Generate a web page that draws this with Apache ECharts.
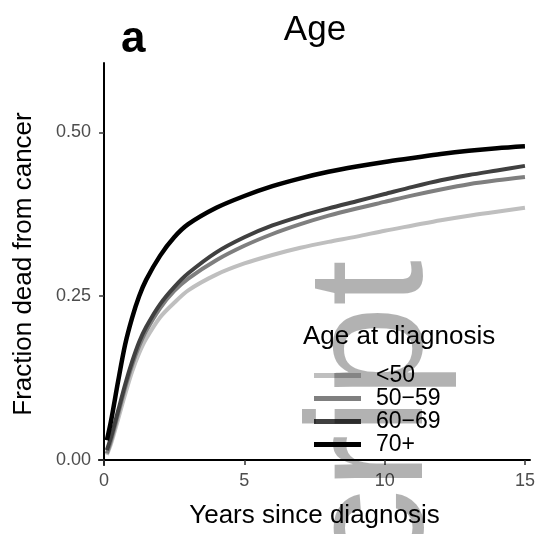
<!DOCTYPE html>
<html>
<head>
<meta charset="utf-8">
<script src="https://cdn.jsdelivr.net/npm/echarts@6/dist/echarts.min.js"></script>
<style>
  html, body { margin: 0; padding: 0; background: #fff; }
  #chart { width: 543px; height: 534px; }
</style>
</head>
<body>
<div id="chart"></div>
<script>
// years since diagnosis
const years = [0.1, 0.25, 0.5, 0.75, 1, 1.25, 1.5, 2, 2.5, 3, 4, 5, 6, 7, 8, 9, 10, 11, 12, 13, 14, 15];

// fraction dead from cancer, per age group
const ageUnder50 = [0.008, 0.025, 0.062, 0.100, 0.135, 0.163, 0.185, 0.218, 0.240, 0.259, 0.283, 0.300, 0.313, 0.324, 0.333, 0.341, 0.350, 0.358, 0.366, 0.373, 0.379, 0.385];
const age50to59 = [0.010, 0.030, 0.070, 0.110, 0.145, 0.174, 0.197, 0.232, 0.258, 0.277, 0.305, 0.327, 0.345, 0.360, 0.373, 0.384, 0.394, 0.404, 0.413, 0.421, 0.427, 0.432];
const age60to69 = [0.015, 0.035, 0.075, 0.115, 0.150, 0.180, 0.203, 0.238, 0.264, 0.285, 0.317, 0.340, 0.358, 0.372, 0.384, 0.395, 0.406, 0.417, 0.427, 0.435, 0.442, 0.449];
const age70plus = [0.030, 0.060, 0.120, 0.176, 0.217, 0.250, 0.275, 0.312, 0.340, 0.360, 0.385, 0.403, 0.418, 0.430, 0.440, 0.448, 0.455, 0.461, 0.467, 0.472, 0.476, 0.479];

const groupNames = ['<50', '50\u221259', '60\u221269', '70+'];
const groupColors = ['#bfbfbf', '#7f7f7f', '#404040', '#000000'];
const groupWidths = [4, 4, 4, 4.5];

const xTicks = [0, 5, 10, 15];
const yTicks = [0, 0.25, 0.5];

const FONT = 'Liberation Sans, Arial, sans-serif';

const chart = echarts.init(document.getElementById('chart'), null, { renderer: 'canvas' });

const seriesData = [ageUnder50, age50to59, age60to69, age70plus];
const series = seriesData.map((vals, i) => ({
    name: groupNames[i],
    type: 'line',
    data: years.map((x, j) => [x, vals[j]]),
    smooth: 0.3,
    showSymbol: false,
    lineStyle: { color: groupColors[i], width: groupWidths[i] },
    itemStyle: { color: groupColors[i] },
    z: 2 + i
}));

const option = {
    backgroundColor: '#fff',
    animation: false,
    textStyle: { fontFamily: FONT },
    grid: { left: 99, right: 13, top: 63, bottom: 66 },
    xAxis: {
        type: 'value',
        min: -0.18,
        max: 15.18,
        name: 'Years since diagnosis',
        nameLocation: 'middle',
        nameGap: 38,
        nameTextStyle: { fontSize: 26, color: '#000', fontFamily: FONT },
        axisLine: { lineStyle: { color: '#000', width: 2 } },
        axisTick: { customValues: xTicks, length: 5, lineStyle: { color: '#333', width: 1.5 } },
        axisLabel: { customValues: xTicks, fontSize: 18, color: '#4d4d4d', margin: 7, fontFamily: FONT },
        splitLine: { show: false }
    },
    yAxis: {
        type: 'value',
        min: -0.0076,
        max: 0.606,
        name: 'Fraction dead from cancer',
        nameLocation: 'middle',
        nameGap: 62,
        nameTextStyle: { fontSize: 26, color: '#000', fontFamily: FONT },
        axisLine: { lineStyle: { color: '#000', width: 2 } },
        axisTick: { customValues: yTicks, length: 5, lineStyle: { color: '#333', width: 1.5 } },
        axisLabel: {
            customValues: yTicks,
            fontSize: 18,
            color: '#4d4d4d',
            margin: 8,
            fontFamily: FONT,
            formatter: v => v.toFixed(2)
        },
        splitLine: { show: false }
    },
    legend: {
        data: groupNames,
        orient: 'vertical',
        left: 309,
        top: 359,
        icon: 'rect',
        itemWidth: 47,
        itemHeight: 5,
        itemGap: 0,
        textStyle: { fontSize: 23, lineHeight: 22, color: '#000', fontFamily: FONT, padding: [0, 0, 0, 10] }
    },
    graphic: [
        {
            type: 'text',
            left: 121,
            top: 18,
            style: { text: 'a', font: 'bold 44px ' + FONT, fill: '#000' }
        },
        {
            type: 'text',
            x: 315,
            y: 30,
            style: { text: 'Age', font: '35px ' + FONT, fill: '#000', textAlign: 'center', textVerticalAlign: 'middle' }
        },
        {
            type: 'text',
            x: 303,
            y: 337,
            style: { text: 'Age at diagnosis', font: '26px ' + FONT, fill: '#000', textAlign: 'left', textVerticalAlign: 'middle' }
        },
        {
            type: 'text',
            x: 376,
            y: 682,
            rotation: Math.PI / 2,
            z: 100,
            silent: true,
            style: { text: 'Script', font: '165px ' + FONT, fill: 'rgba(0,0,0,0.3)', textAlign: 'left', textVerticalAlign: 'middle' }
        }
    ],
    series: series
};

chart.setOption(option);
</script>
</body>
</html>
